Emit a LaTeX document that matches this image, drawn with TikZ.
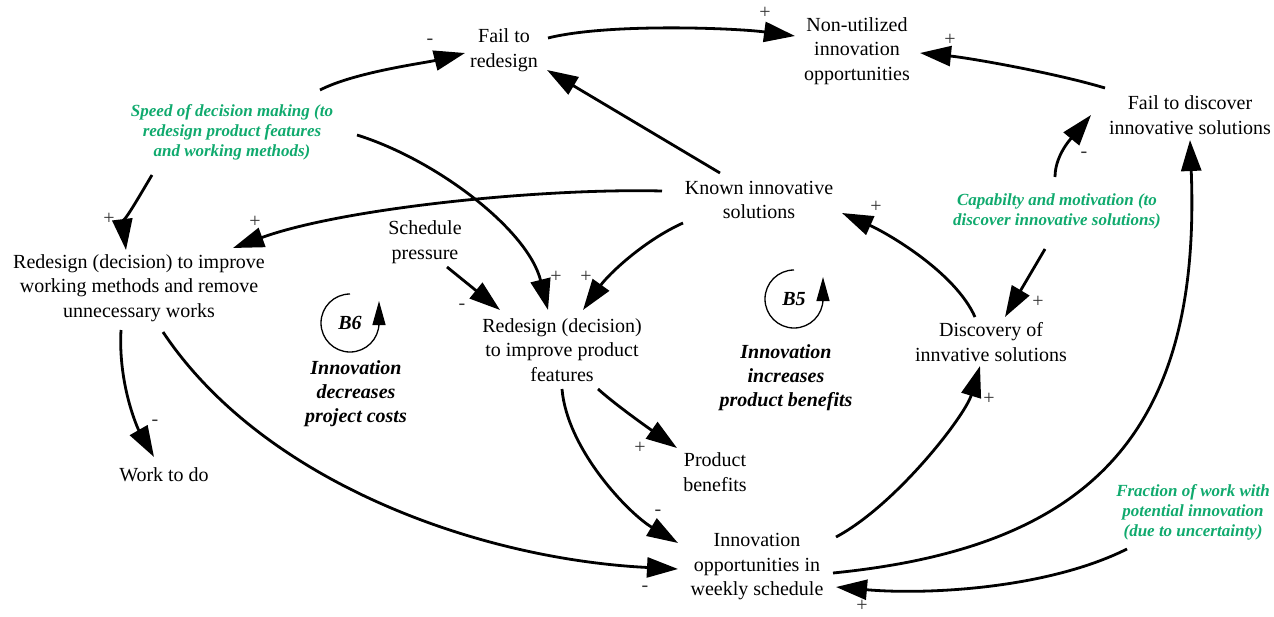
\documentclass[tikz,border=0pt]{standalone}
\usepackage{fontspec}
\setmainfont{Liberation Serif}
\usetikzlibrary{arrows.meta}
\definecolor{vgreen}{RGB}{16,170,110}
\begin{document}
\begin{tikzpicture}[x=1pt,y=-1pt,
  var/.style={align=center,inner sep=0pt,font=\fontsize{20}{24.5}\selectfont},
  aux/.style={align=center,inner sep=0pt,text=vgreen,font=\fontsize{17}{20}\selectfont\bfseries\itshape},
  looplbl/.style={align=center,inner sep=0pt,font=\fontsize{20}{24}\selectfont\bfseries\itshape},
  link/.style={line width=2.8pt,-{Triangle[length=31pt,width=20pt]}},
  sgn/.style={inner sep=0pt,font=\fontsize{20}{20}\selectfont,text=black!80},
  loopar/.style={line width=1.3pt,-{Triangle[length=24pt,width=13pt]}}]
\useasboundingbox (0,0) rectangle (1274,616);

% variables
\node[var] (FR) at (504,50) {Fail to\\redesign};
\node[var] (NU) at (857,51) {Non-utilized\\innovation\\opportunities};
\node[var] (FD) at (1190,115) {Fail to discover\\innovative solutions};
\node[var] (KN) at (759,200) {Known innovative\\solutions};
\node[aux] (SP) at (232,132) {Speed of decision making (to\\redesign product features\\and working methods)};
\node[aux] (CM) at (1057,211) {Capabilty and motivation (to\\discover innovative solutions)};
\node[var] (RW) at (139,288) {Redesign (decision) to improve\\working methods and remove\\unnecessary works};
\node[var] (SC) at (425,242) {Schedule\\pressure};
\node[var] (RP) at (562,350) {Redesign (decision)\\to improve product\\features};
\node[var] (WD) at (164,475) {Work to do};
\node[var] (PB) at (715,472) {Product\\benefits};
\node[var] (IO) at (757,567) {Innovation\\opportunities in\\weekly schedule};
\node[var] (DI) at (991,342) {Discovery of\\innvative solutions};
\node[aux] (FW) at (1193,512) {Fraction of work with\\potential innovation\\(due to uncertainty)};

% loops
\coordinate (B6c) at (350,323);
\coordinate (B5c) at (794,299);
\node[looplbl] (B6) at (B6c) {B6};
\node[looplbl] (B5) at (B5c) {B5};
\draw[loopar] ([shift={(0,-29)}]B6c) arc[start angle=-90,end angle=-360,radius=29] -- ++(0,-22);
\draw[loopar] ([shift={(0,-29)}]B5c) arc[start angle=-90,end angle=-360,radius=29] -- ++(0,-22);
\node[looplbl] (L6) at (356,394) {Innovation\\decreases\\project costs};
\node[looplbl] (L5) at (786,378) {Innovation\\increases\\product benefits};

% links
\draw[link] ([shift={(88,-42)}]SP.center) .. controls +(35,-18) and +(-40,10) .. ([shift={(-39,3)}]FR.center);
\draw[link] ([shift={(44,-12)}]FR.center) .. controls +(60,-15) and +(-60,-8) .. ([shift={(-62,-15)}]NU.center);
\draw[link] ([shift={(-85,-27)}]FD.center) .. controls +(-50,-15) and +(50,5) .. ([shift={(63,2)}]NU.center);
\draw[link] ([shift={(-39,-27)}]KN.center) -- ([shift={(43,20)}]FR.center);
\draw[link] ([shift={(-2,-34)}]CM.center) .. controls +(0,-25) and +(-14,17) .. ([shift={(-99,0)}]FD.center);
\draw[link] ([shift={(-12,38)}]CM.center) -- ([shift={(14,-25)}]DI.center);
\draw[link] ([shift={(-16,-25)}]DI.center) .. controls +(-20,-45) and +(45,20) .. ([shift={(83,13)}]KN.center);
\draw[link] ([shift={(-97,-9)}]KN.center) .. controls +(-120,-3) and +(110,-40) .. ([shift={(94,-40)}]RW.center);
\draw[link] ([shift={(-80,43)}]SP.center) .. controls +(-12,20) and +(-3,-25) .. ([shift={(-13,-38)}]RW.center);
\draw[link] ([shift={(125,3)}]SP.center) .. controls +(80,25) and +(-20,-80) .. ([shift={(-14,-40)}]RP.center);
\draw[link] ([shift={(-76,23)}]KN.center) .. controls +(-40,18) and +(25,-35) .. ([shift={(21,-40)}]RP.center);
\draw[link] ([shift={(22,25)}]SC.center) -- ([shift={(-62,-40)}]RP.center);
\draw[link] ([shift={(-18,42)}]RW.center) .. controls +(-3,55) and +(-16,-28) .. ([shift={(-10,-18)}]WD.center);
\draw[link] ([shift={(24,44)}]RW.center) .. controls +(100,150) and +(-200,-10) .. ([shift={(-79,2)}]IO.center);
\draw[link] ([shift={(36,39)}]RP.center) .. controls +(20,18) and +(-20,-14) .. ([shift={(-38,-24)}]PB.center);
\draw[link] ([shift={(0,39)}]RP.center) .. controls +(5,60) and +(-50,-30) .. ([shift={(-79,-24)}]IO.center);
\draw[link] ([shift={(79,-30)}]IO.center) .. controls +(60,-32) and +(-15,50) .. ([shift={(-11,24)}]DI.center);
\draw[link] ([shift={(76,6)}]IO.center) .. controls +(250,-25) and +(12,300) .. ([shift={(0,25)}]FD.center);
\draw[link] ([shift={(-66,37)}]FW.center) .. controls +(-80,40) and +(90,8) .. ([shift={(79,20)}]IO.center);

% polarities
\node[sgn] (sa) at (430,42) {-};
\node[sgn] (sb) at (765,13) {+};
\node[sgn] (sc) at (950,40) {+};
\node[sgn] (se) at (1084,155) {-};
\node[sgn] (sf) at (1038,302) {+};
\node[sgn] (sg) at (876,207) {+};
\node[sgn] (sh) at (255,222) {+};
\node[sgn] (si) at (109,219) {+};
\node[sgn] (sj) at (556,277) {+};
\node[sgn] (sk) at (586,277) {+};
\node[sgn] (sl) at (462,307) {-};
\node[sgn] (sm) at (155,423) {-};
\node[sgn] (sn) at (645,589) {-};
\node[sgn] (so) at (640,448) {+};
\node[sgn] (sp) at (658,513) {-};
\node[sgn] (sq) at (989,399) {+};
\node[sgn] (ss) at (862,606) {+};
\end{tikzpicture}
\end{document}
